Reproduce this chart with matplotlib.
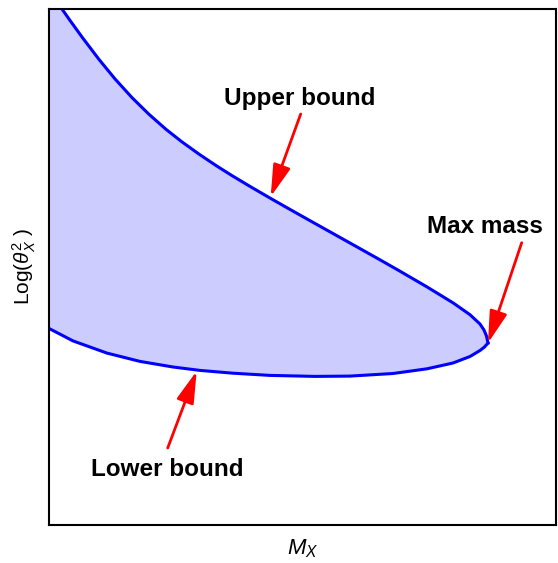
import numpy as np
import matplotlib.pyplot as plt

plt.rcParams['font.family'] = ['Liberation Sans', 'DejaVu Sans']
plt.rcParams['mathtext.fontset'] = 'custom'
plt.rcParams['mathtext.rm'] = 'Liberation Sans'
plt.rcParams['mathtext.it'] = 'Liberation Sans:italic'

# upper bound curve (arbitrary units)
up_x = [0.0, 12.5, 20.5, 32.5, 49.5, 65.5, 82.5, 99.5, 116.5, 132.5, 149.5,
        166.5, 182.5, 200.5, 221.5, 240.5, 259.5, 283.5, 310.5, 330.5, 350.5,
        377.5, 403.5, 420.5, 430.5, 434.5, 437.0, 438.5]
up_y = [534, 516, 504.6, 488, 465.6, 446.1, 427.4, 410.7, 395.7, 383.1, 370.9,
        359.5, 349.4, 338.6, 326.4, 315.6, 304.9, 291.5, 276.4, 265.2, 253.8,
        238.1, 222.2, 210.3, 201, 195, 189, 182]

# lower bound curve
lo_x = [0.0, 23.5, 57.5, 90.5, 123.5, 150.5, 183.5, 220.5, 265.5, 300.5,
        343.5, 377.5, 403.5, 420.5, 430.5, 435.0, 438.5]
lo_y = [196.3, 184.1, 171.9, 163.6, 158.0, 154.6, 151.8, 149.6, 148.6, 148.9,
        151.5, 156.2, 162, 168.5, 174.5, 178, 182]

# annotations: label, text position, arrow tail, arrow tip
labels = ["Upper bound", "Max mass", "Lower bound"]
text_xy = [(250.5, 420), (435.5, 291.7), (117.5, 49)]
tail_xy = [(251.2, 411), (472.2, 282.3), (118.2, 77)]
tip_xy = [(221.2, 328.3), (438.5, 182), (147.2, 154)]

fig = plt.figure(figsize=(5.58, 5.63), dpi=100)
ax = fig.add_axes([0.0887, 0.0675, 0.9077, 0.9165])

ax.fill(up_x + lo_x[::-1], up_y + lo_y[::-1], color='#ccccff', lw=0)
ax.plot(up_x, up_y, color='#0000ff', lw=2.2, solid_joinstyle='round')
ax.plot(lo_x, lo_y, color='#0000ff', lw=2.2, solid_joinstyle='round')

for lab, t, a, b in zip(labels, text_xy, tail_xy, tip_xy):
    ax.text(t[0], t[1], lab, fontsize=17.5, fontweight='bold',
            ha='center', va='baseline')
    ax.annotate('', xy=b, xytext=a,
                arrowprops=dict(arrowstyle='-|>,head_length=1.3,head_width=0.36',
                                color='red', lw=2, shrinkA=0, shrinkB=0,
                                mutation_scale=15))

ax.set_xlim(0, 506.5)
ax.set_ylim(0, 516)
ax.set_xticks([])
ax.set_yticks([])
for s in ax.spines.values():
    s.set_linewidth(1.5)
ax.set_xlabel(r'$M_X$', fontsize=16, labelpad=9)
ax.set_ylabel(r'Log($\theta^{2}_{X}$ )', fontsize=15, labelpad=8)

fig.savefig('out.png', dpi=100)
